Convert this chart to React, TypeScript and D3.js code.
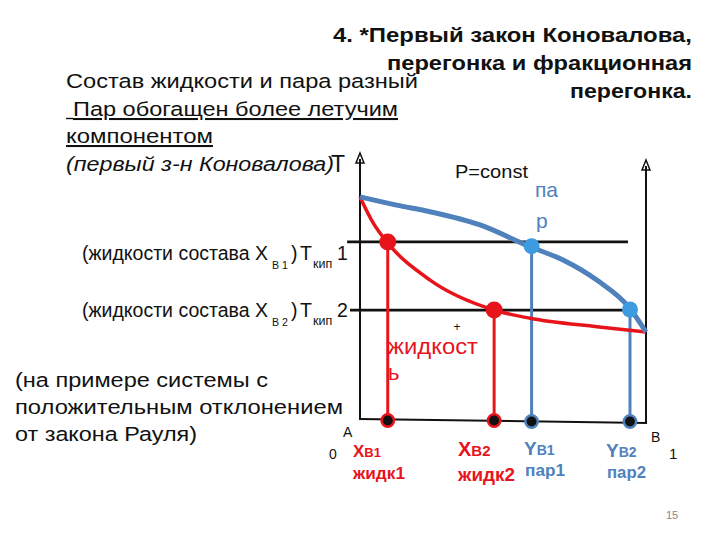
import React from "react";
import * as d3 from "d3";

const liquidX = [0, 0.047, 0.094, 0.245, 0.469, 0.594, 0.828, 1.0];
const liquidT = [84.2, 74.2, 67.2, 52.8, 41.5, 38.4, 35.2, 33.2];
const vaporX = [0, 0.128, 0.245, 0.42, 0.594, 0.71, 0.828, 0.944, 1.0];
const vaporT = [84.2, 81.1, 78.6, 73.6, 65.4, 60.4, 52.8, 42.1, 33.2];

const boilT = [67.2, 41.5]; // T кип 1, T кип 2
const liquidComp = [0.097, 0.469]; // X B1, X B2
const vaporComp = [0.6, 0.944]; // Y B1, Y B2
const vaporDotT = [65.6, 41.7];
const isoStart = [-0.045, -0.035];
const isoEnd = [0.937, 0.937];

const RED = "#e8141c";
const BLUE = "#4f81bd";
const BLUE_DOT = "#3d9be0";
const FONT = "'Liberation Sans', Arial, sans-serif";
const SG = "spacingAndGlyphs";

function IsoLabel({ y, idx }: { y: number; idx: string }) {
  return (
    <g fontSize={19.5} fill="#111">
      <text x={82} y={y} textLength={186} lengthAdjust={SG}>(жидкости состава X</text>
      <text x={272} y={y + 9} fontSize={11.5} textLength={16} lengthAdjust={SG}>B {idx}</text>
      <text x={291} y={y}>)</text>
      <text x={300} y={y}>T</text>
      <text x={313} y={y + 8} fontSize={12.5}>кип</text>
      <text x={337} y={y}>{idx}</text>
    </g>
  );
}

export default function App() {
  const x = d3.scaleLinear().domain([0, 1]).range([360, 646]);
  const y = d3.scaleLinear().domain([0, 100]).range([420, 155]);

  const line = d3
    .line<[number, number]>()
    .x((d) => x(d[0]))
    .y((d) => y(d[1]))
    .curve(d3.curveMonotoneX);

  const liq = line(liquidX.map((v, i) => [v, liquidT[i]]) as [number, number][]) || "";
  const vap = line(vaporX.map((v, i) => [v, vaporT[i]]) as [number, number][]) || "";

  const axisTopL = 153;
  const axisTopR = 160;

  const arrow = (cx: number, ty: number) =>
    `M${cx},${ty} L${cx - 4},${ty + 10} L${cx + 4},${ty + 10} Z`;

  return (
    <svg
      width={720}
      height={540}
      style={{ position: "absolute", left: 0, top: 0, background: "#fff" }}
      fontFamily={FONT}
    >
      <rect width={720} height={540} fill="#fff" />
      {/* Title */}
      <g fontWeight="bold" fontSize={20.5} fill="#111">
        <text x={333} y={42} textLength={359} lengthAdjust={SG}>4. *Первый закон Коновалова,</text>
        <text x={387} y={70} textLength={305} lengthAdjust={SG}>перегонка и фракционная</text>
        <text x={570} y={98} textLength={122} lengthAdjust={SG}>перегонка.</text>
      </g>
      {/* Left text */}
      <g fontSize={20.5} fill="#111">
        <text x={66} y={88} textLength={352} lengthAdjust={SG}>Состав жидкости и пара разный</text>
        <text x={73} y={116} textLength={325} lengthAdjust={SG} textDecoration="underline">
          Пар обогащен более летучим
        </text>
        <line x1={66} x2={73} y1={118.5} y2={118.5} stroke="#111" strokeWidth={1.4} />
        <text x={66} y={143} textLength={147} lengthAdjust={SG} textDecoration="underline">компонентом</text>
        <text x={66} y={171} textLength={268} lengthAdjust={SG} fontStyle="italic">(первый з-н Коновалова)</text>
      </g>
      <text x={331} y={172} fontSize={23} fill="#111">T</text>
      <text x={455} y={178} fontSize={19} fill="#111" textLength={73} lengthAdjust={SG}>P=const</text>
      <text x={535} y={197} fontSize={21} fill={BLUE}>па</text>
      <text x={536} y={228} fontSize={21} fill={BLUE}>р</text>

      {/* axes */}
      <g stroke="#111" strokeWidth={2} fill="none">
        <line x1={x(0)} y1={y(0)} x2={x(0)} y2={axisTopL + 6} />
        <line x1={x(1)} y1={y(0) + 3} x2={x(1)} y2={axisTopR + 6} />
        <line x1={x(0) - 1} y1={y(0) - 1} x2={x(1) + 1} y2={y(0) + 3} />
        <path d={arrow(x(0), axisTopL)} strokeWidth={1.5} />
        <path d={arrow(x(1), axisTopR)} strokeWidth={1.5} />
      </g>

      {/* isotherms */}
      {boilT.map((t, i) => (
        <line
          key={"iso" + i}
          x1={x(isoStart[i])}
          x2={x(isoEnd[i])}
          y1={y(t)}
          y2={y(t)}
          stroke="#111"
          strokeWidth={2.8}
        />
      ))}

      {/* drop lines */}
      {liquidComp.map((c, i) => (
        <line key={"ld" + i} x1={x(c)} x2={x(c)} y1={y(boilT[i])} y2={y(0) + 1} stroke={RED} strokeWidth={3} />
      ))}
      {vaporComp.map((c, i) => (
        <line key={"vd" + i} x1={x(c)} x2={x(c)} y1={y(vaporDotT[i])} y2={y(0) + 1} stroke={BLUE} strokeWidth={3} />
      ))}

      {/* curves */}
      <path d={liq} fill="none" stroke={RED} strokeWidth={3.5} />
      <path d={vap} fill="none" stroke={BLUE} strokeWidth={5} />

      {/* dots */}
      {liquidComp.map((c, i) => (
        <circle key={"lt" + i} cx={x(c)} cy={y(boilT[i])} r={8.5} fill={RED} />
      ))}
      {vaporComp.map((c, i) => (
        <circle key={"vt" + i} cx={x(c)} cy={y(vaporDotT[i])} r={8} fill={BLUE_DOT} />
      ))}
      {liquidComp.map((c, i) => (
        <circle key={"lb" + i} cx={x(c)} cy={y(0) + 0.5} r={6.2} fill="#111" stroke={RED} strokeWidth={2.5} />
      ))}
      {vaporComp.map((c, i) => (
        <circle key={"vb" + i} cx={x(c)} cy={y(0) + 1.5} r={6.2} fill="#111" stroke={BLUE} strokeWidth={2.5} />
      ))}

      {/* isotherm labels */}
      <IsoLabel y={260} idx="1" />
      <IsoLabel y={317} idx="2" />

      <text x={457} y={331} fontSize={12} fill="#111" textAnchor="middle">+</text>
      <text x={388} y={354} fontSize={22} fill={RED} textLength={90} lengthAdjust={SG}>жидкост</text>
      <text x={388} y={380} fontSize={22} fill={RED}>ь</text>

      <g fontSize={20.5} fill="#111">
        <text x={15} y={387} textLength={253} lengthAdjust={SG}>(на примере системы с</text>
        <text x={15} y={414} textLength={328} lengthAdjust={SG}>положительным отклонением</text>
        <text x={15} y={441} textLength={182} lengthAdjust={SG}>от закона Рауля)</text>
      </g>

      <text x={343} y={437} fontSize={14} fill="#111">A</text>
      <text x={651} y={442} fontSize={14} fill="#111">B</text>
      <text x={329} y={459} fontSize={14} fill="#111">0</text>
      <text x={669} y={459} fontSize={15} fill="#111">1</text>

      <g fontWeight="bold">
        <text x={353} y={457} fill={RED} fontSize={17}>
          X<tspan fontSize={13}>B1</tspan>
        </text>
        <text x={353} y={479} fill={RED} fontSize={17} textLength={52} lengthAdjust={SG}>жидк1</text>
        <text x={458} y={456} fill={RED} fontSize={20}>
          X<tspan fontSize={15}>B2</tspan>
        </text>
        <text x={458} y={481} fill={RED} fontSize={19} textLength={57} lengthAdjust={SG}>жидк2</text>
        <text x={524} y={455} fill={BLUE} fontSize={19}>
          Y<tspan fontSize={14}>B1</tspan>
        </text>
        <text x={525} y={476} fill={BLUE} fontSize={17} textLength={40} lengthAdjust={SG}>пар1</text>
        <text x={606} y={457} fill={BLUE} fontSize={19}>
          Y<tspan fontSize={14}>B2</tspan>
        </text>
        <text x={607} y={478} fill={BLUE} fontSize={17} textLength={39} lengthAdjust={SG}>пар2</text>
      </g>

      <text x={666} y={519} fontSize={11} fill="#888">15</text>
    </svg>
  );
}
